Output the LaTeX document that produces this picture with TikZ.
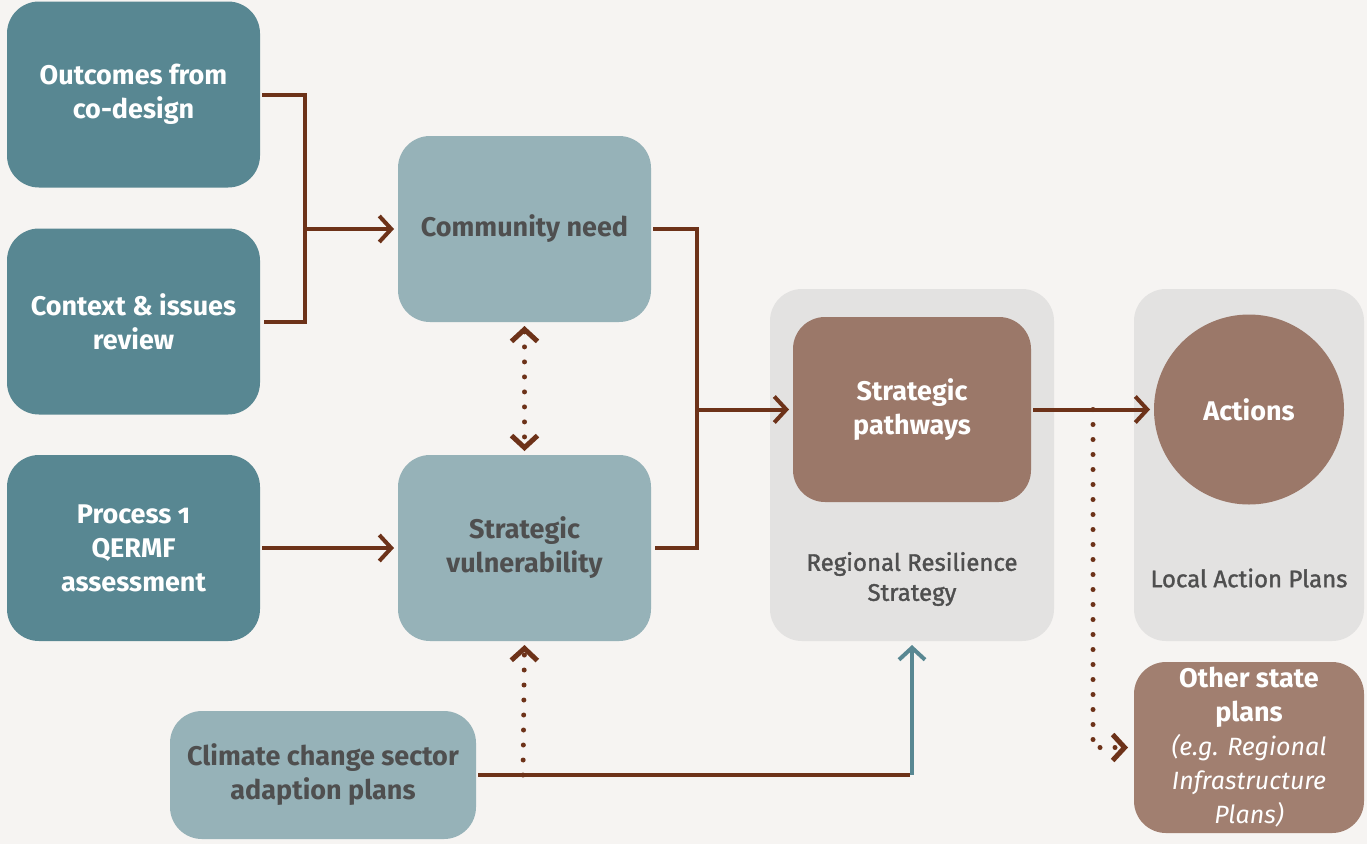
\documentclass[tikz,border=0pt]{standalone}
\usepackage{fontspec}
\setmainfont{Fira Sans}[Numbers=OldStyle]
\newfontfamily\labelfont{Fira Sans}[FakeBold=1.4]
\usetikzlibrary{arrows.meta}

\definecolor{bgpaper}{HTML}{F6F4F2}
\definecolor{tealdark}{HTML}{588792}
\definecolor{teallight}{HTML}{96B2B8}
\definecolor{brownbox}{HTML}{9B7869}
\definecolor{brownlight}{HTML}{A17F70}
\definecolor{greybox}{HTML}{E3E2E1}
\definecolor{linebrown}{HTML}{6D3219}
\definecolor{textgrey}{HTML}{4F4F4F}

\begin{document}
\begin{tikzpicture}[
        x=1pt, y=-1pt,
        >={Straight Barb[length=12pt, width=26pt]}, % open chevron heads
        shorten > = 2pt,
        line width=4pt]

        \tikzstyle{every node}=[
            font=\fontsize{27}{34}\selectfont\bfseries,
            align=center
        ]
        \tikzset{box/.style={rounded corners=32pt, inner sep=0pt,
            minimum width=253pt, minimum height=186pt}}
        \tikzset{dark/.style={box, fill=tealdark, text=white}}
        \tikzset{light/.style={box, fill=teallight, text=textgrey}}
        \tikzset{plan/.style={rounded corners=32pt, fill=greybox,
            minimum width=#1, minimum height=352pt}}
        \tikzset{planlbl/.style={font=\labelfont\fontsize{24}{30}\selectfont,
            text=textgrey}}
        \tikzset{link/.style={draw=linebrown}}
        \tikzset{dots/.style={draw=linebrown, line width=5pt, line cap=round,
            dash pattern=on 0pt off 15pt}}
        \newcommand{\eg}[1]{{\mdseries\itshape\fontsize{25}{32}\selectfont #1}}

        % paper
        \fill[bgpaper] (0,0) rectangle (1367,844);
        \useasboundingbox (0,0) rectangle (1367,844);

        % inputs
        \node[dark] (out) at (133.5,94.5) {Outcomes from\\co-design};
        \node[dark] (ctx) at (133.5,321.5) {Context \& issues\\review};
        \node[dark] (proc) at (133.5,548) {Process 1\\QERMF\\assessment};
        \node[light] (need) at (524.5,229) {Community need};
        \node[light] (vuln) at (524.5,548) {Strategic\\vulnerability};
        \node[light, minimum width=306pt, minimum height=128pt]
            (climate) at (323,775) {Climate change sector\\adaption plans};

        % plans
        \node[plan=284pt] (rrs) at (912,465) {};
        \node[box, fill=brownbox, text=white, minimum width=238pt,
            minimum height=185pt] (path) at (912,409.5) {Strategic\\pathways};
        \node[planlbl] (rrslbl) at (912,579) {Regional Resilience\\Strategy};
        \node[plan=230pt] (lap) at (1249,465) {};
        \node[circle, fill=brownbox, text=white, minimum size=190pt]
            (act) at (1249,409.5) {Actions};
        \node[planlbl] (laplbl) at (1249,578) {Local Action Plans};
        \node[box, fill=brownlight, text=white, minimum width=230pt,
            minimum height=171pt] (other) at (1249,747.5)
            {Other state\\plans\\\eg{(e.g. Regional}\\
             \eg{Infrastructure}\\\eg{Plans)}};

        % joints
        \coordinate (j1) at (305,229);
        \coordinate (j2) at (697,409.5);
        \coordinate (j3) at (1093,409.5);
        \coordinate (j4) at (912,775);
        \coordinate (j5) at (523,775);

        \draw[link] (out.east) -| (j1) |- (ctx.east);
        \draw[link, ->] (j1) -- (need.west);
        \draw[link, ->] (proc.east) -- (vuln.west);
        \draw[link] (need.east) -| (j2) |- (vuln.east);
        \draw[link, ->] (j2) -- (path.west);
        \draw[link, ->] (path.east) -- (act.west);
        \draw[link] (climate.east) -- (j4);
        \draw[draw=tealdark, ->] (j4) -- (rrs.south);
        \draw[dots, <->, shorten <=2pt] (need.south) -- (vuln.north);
        \draw[dots, ->] (j5) -- (vuln.south);
        \draw[dots, ->, shorten >=4pt] (j3) |- (other.west);
    \end{tikzpicture}
\end{document}
